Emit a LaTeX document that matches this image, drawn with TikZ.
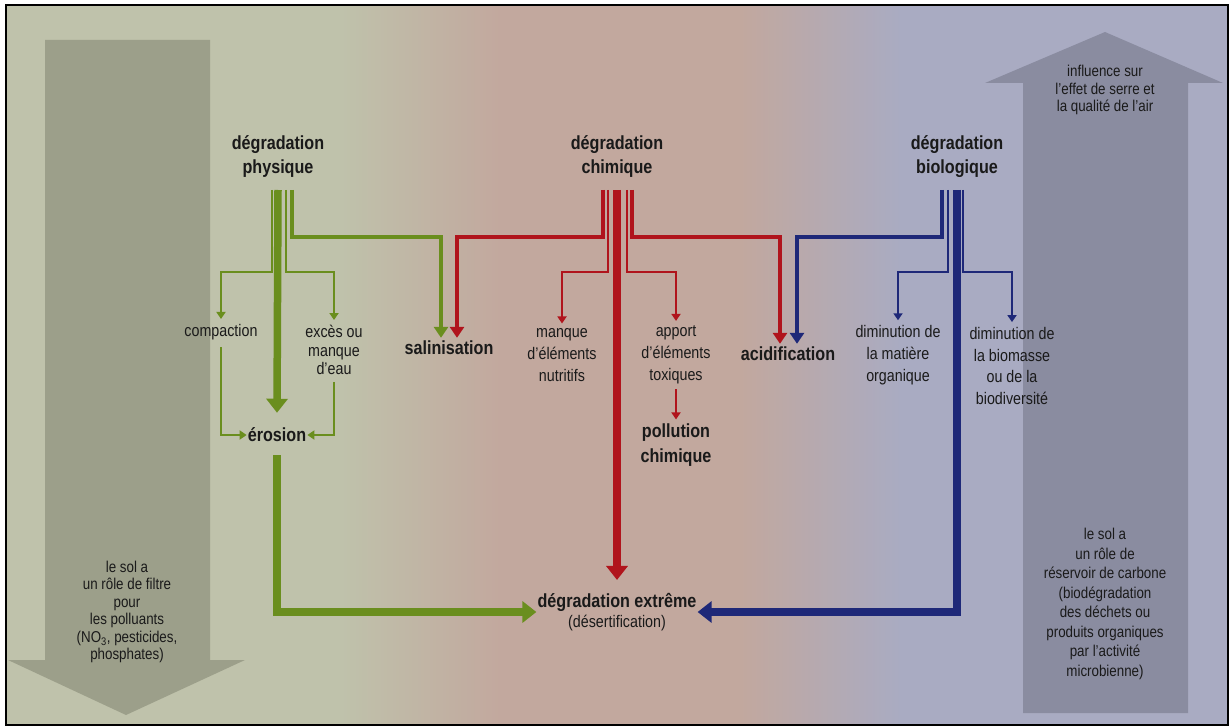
\documentclass[tikz,border=0pt]{standalone}
\usepackage{fontspec}
\setmainfont{Liberation Sans}[FakeStretch=0.85]
\usetikzlibrary{arrows.meta,calc}
\definecolor{bgL}{HTML}{BFC2AB}
\definecolor{bgM}{HTML}{C2A89E}
\definecolor{bgR}{HTML}{A9ABC2}
\definecolor{arL}{HTML}{9C9F8A}
\definecolor{arR}{HTML}{8A8CA0}
\definecolor{cgrn}{HTML}{6A8E1E}
\definecolor{cred}{HTML}{B0141C}
\definecolor{cblu}{HTML}{1E2878}
\definecolor{txt}{HTML}{1A1A1A}
\tikzset{
  every node/.style={text=txt},
  ttl/.style={font=\bfseries\fontsize{19}{24}\selectfont, align=center, inner sep=1pt},
  lbl/.style={font=\fontsize{16.8}{18.5}\selectfont, align=center, inner sep=1pt},
  lblw/.style={font=\fontsize{16.8}{21.7}\selectfont, align=center, inner sep=1pt},
  bld/.style={font=\bfseries\fontsize{19}{25}\selectfont, align=center, inner sep=1pt},
  atxt/.style={font=\fontsize{15.7}{17.5}\selectfont, align=center, inner sep=0pt},
  thin/.style={line width=2pt, -{Triangle[width=9pt,length=7pt]}},
  medium/.style={line width=3.6pt, -{Triangle[width=14pt,length=11pt]}},
  thick/.style={line width=7.5pt, -{Triangle[width=21pt,length=14pt]}},
}
\begin{document}
\begin{tikzpicture}[x=1pt,y=-1pt]
\useasboundingbox (0,0) rectangle (1230,727);
% background
\fill[white] (0,0) rectangle (1230,727);
\fill[bgL] (6,5) rectangle (341,725);
\shade[left color=bgL, right color=bgM] (340,5) rectangle (501,725);
\fill[bgM] (500,5) rectangle (741,725);
\shade[left color=bgM, right color=bgR] (740,5) rectangle (901,725);
\fill[bgR] (900,5) rectangle (1228,725);
% big arrows
\fill[arL] (45,40) -- (210,40) -- (210,660) -- (245,660) -- (126,715) -- (8,660) -- (45,660) -- cycle;
\fill[arR] (1023,713) -- (1023,83) -- (985,83) -- (1105,32) -- (1223,83) -- (1188,83) -- (1188,713) -- cycle;
\draw[line width=2pt] (6,5) rectangle (1228,725);

\node[atxt] (filtre) at (127,612) {le sol a\\un rôle de filtre\\pour\\les polluants\\(NO\textsubscript{3}, pesticides,\\phosphates)};
\node[atxt] (serre) at (1105,90) {influence sur\\l’effet de serre et\\la qualité de l’air};
\node[atxt, font=\fontsize{15.7}{19.5}\selectfont] (carbone) at (1105,604) {le sol a\\un rôle de\\réservoir de carbone\\(biodégradation\\des déchets ou\\produits organiques\\par l’activité\\microbienne)};

% titles
\node[ttl] (tphy) at (278,157) {dégradation\\physique};
\node[ttl] (tchi) at (617,157) {dégradation\\chimique};
\node[ttl] (tbio) at (957,157) {dégradation\\biologique};

% labels
\node[lbl] (comp) at (221,332) {compaction};
\node[lbl] (exces) at (334,350) {excès ou\\manque\\d’eau};
\node[bld] (sal) at (449,348) {salinisation};
\node[lblw] (manque) at (562,355) {manque\\d’éléments\\nutritifs};
\node[lblw] (apport) at (676,355) {apport\\d’éléments\\toxiques};
\node[bld] (poll) at (676,445) {pollution\\chimique};
\node[bld] (acid) at (788,354) {acidification};
\node[lblw] (dmo) at (898,355) {diminution de\\la matière\\organique};
\node[lblw] (dbio) at (1012,366) {diminution de\\la biomasse\\ou de la\\biodiversité};
\node[bld] (eros) at (277,435) {érosion};
\node[align=center, inner sep=1pt, font=\fontsize{16.8}{20}\selectfont] (ext) at (617,612)
  {{\bfseries\fontsize{19}{20}\selectfont dégradation extrême}\\(désertification)};

% start points under titles
\coordinate (g1) at (272,190);
\coordinate (g2) at (278,190);
\coordinate (g3) at (286,190);
\coordinate (g4) at (292,190);
\coordinate (r1) at (603,190);
\coordinate (r2) at (608,190);
\coordinate (r3) at (617,190);
\coordinate (r4) at (627,190);
\coordinate (r5) at (632,190);
\coordinate (b1) at (942,190);
\coordinate (b2) at (948,190);
\coordinate (b3) at (957,190);
\coordinate (b4) at (963,190);

% green
\draw[cgrn, thin] (g1) -- ++(0,82) -| ($(comp.north)+(0,-4)$);
\draw[cgrn, thin] (g3) -- ++(0,82) -| ($(exces.north)+(0,-4)$);
\draw[cgrn, medium] (g4) -- ++(0,47) -| ($(sal.north)+(-8,-2)$);
\draw[cgrn, thick] (g2) -- ($(eros.north)+(0,-14)$);
\draw[cgrn, thin] ($(comp.south)+(0,6)$) |- (eros.west);
\draw[cgrn, thin] ($(exces.south)+(0,6)$) |- (eros.east);
\draw[cgrn, thick] ($(eros.south)+(0,12)$) |- (ext.west);

% red
\draw[cred, medium] (r1) -- ++(0,47) -| ($(sal.north)+(8,-2)$);
\draw[cred, thin] (r2) -- ++(0,82) -| ($(manque.north)+(0,-4)$);
\draw[cred, thin] (r4) -- ++(0,82) -| ($(apport.north)+(0,-4)$);
\draw[cred, medium] (r5) -- ++(0,47) -| ($(acid.north)+(-8,-2)$);
\draw[cred, thick] (r3) -- ($(ext.north)+(0,-12)$);
\draw[cred, thin] ($(apport.south)+(0,4)$) -- ($(poll.north)+(0,-3)$);

% blue
\draw[cblu, medium] (b1) -- ++(0,47) -| ($(acid.north)+(9,-2)$);
\draw[cblu, thin] (b2) -- ++(0,82) -| ($(dmo.north)+(0,-4)$);
\draw[cblu, thin] (b4) -- ++(0,82) -| ($(dbio.north)+(0,-4)$);
\draw[cblu, thick] (b3) |- (ext.east);
\end{tikzpicture}
\end{document}
